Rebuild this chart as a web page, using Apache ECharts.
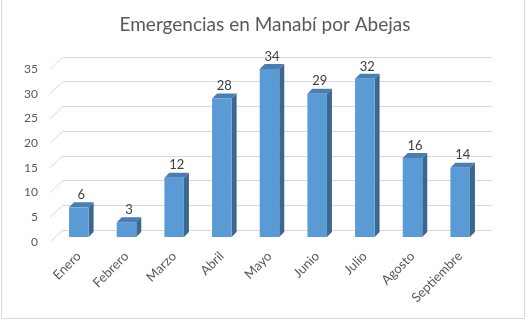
<!DOCTYPE html>
<html>
<head>
<meta charset="utf-8">
<script src="https://cdn.jsdelivr.net/npm/echarts@6/dist/echarts.min.js"></script>
<style>html,body{margin:0;padding:0;background:#fff}#c{width:530px;height:321px}</style>
</head>
<body>
<div id="c"></div>
<script>
const titleText = 'Emergencias en Manabí por Abejas';
const categories = ['Enero','Febrero','Marzo','Abril','Mayo','Junio','Julio','Agosto','Septiembre'];
const values = [6, 3, 12, 28, 34, 29, 32, 16, 14];
const yMin = 0, yMax = 35, yStep = 5;
const yTicks = [0, 5, 10, 15, 20, 25, 30, 35];

const FONT = 'Lato';
const DEPTH_X = 5, DEPTH_Y = 5;   // bar depth (px)
const WALL_X = 13, WALL_Y = 12;   // front-to-back wall offset (px)

const chart = echarts.init(document.getElementById('c'), null, {renderer: 'canvas'});

const gridSize = {width: 429, height: 173};
const yBase = {type: 'value', min: yMin, max: yMax, interval: yStep};

const option = {
  animation: false,
  backgroundColor: '#fff',
  title: {
    text: titleText, left: 'center', top: 10,
    textStyle: {fontFamily: FONT, fontSize: 19, fontWeight: 'normal', color: '#595959'}
  },
  graphic: [{
    type: 'rect', silent: true, z: -10,
    shape: {x: 1.5, y: -2, width: 523, height: 320.5},
    style: {fill: 'none', stroke: '#d9d9d9', lineWidth: 1}
  }],
  grid: [
    Object.assign({left: 63, top: 57}, gridSize),   // back wall
    Object.assign({left: 55, top: 64}, gridSize),   // bar plane
    Object.assign({left: 50, top: 69}, gridSize)    // front plane
  ],
  xAxis: [
    {type: 'category', data: categories, gridIndex: 0, show: false},
    {type: 'category', data: categories, gridIndex: 1,
     axisLine: {show: false}, axisTick: {show: false},
     axisLabel: {rotate: 45, margin: 17, interval: 0, fontFamily: FONT, fontSize: 13, color: '#595959'}},
    {type: 'category', data: categories, gridIndex: 2, show: false}
  ],
  yAxis: [
    Object.assign({gridIndex: 0, axisLine: {show: false}, axisTick: {show: false}, axisLabel: {show: false},
      splitLine: {show: true, lineStyle: {color: '#d9d9d9', width: 1}}}, yBase),
    Object.assign({gridIndex: 1, show: false, splitLine: {show: false}}, yBase),
    Object.assign({gridIndex: 2, axisLine: {show: false}, axisTick: {show: false},
      splitLine: {show: false},
      axisLabel: {margin: 12, fontFamily: FONT, fontSize: 12, color: '#595959'}}, yBase)
  ],
  series: [
    {
      type: 'custom', xAxisIndex: 2, yAxisIndex: 2, silent: true,
      data: yTicks.map(v => [0, v]),
      renderItem: function (params, api) {
        const cs = params.coordSys;
        const y = api.coord([0, api.value(1)])[1];
        return {
          type: 'line',
          shape: {x1: cs.x, y1: y, x2: cs.x + WALL_X, y2: y - WALL_Y},
          style: {stroke: '#d9d9d9', lineWidth: 1}
        };
      }
    },
    {
      type: 'custom', xAxisIndex: 1, yAxisIndex: 1, silent: true,
      data: values.map((v, i) => [i, v]),
      renderItem: function (params, api) {
        const i = api.value(0), v = api.value(1);
        const top = api.coord([i, v]);
        const base = api.coord([i, 0]);
        const w = api.size([1, 0])[0] * 0.41;
        const x0 = top[0] - w / 2, x1 = top[0] + w / 2;
        const yt = top[1], yb = base[1];
        return {
          type: 'group',
          children: [
            {type: 'polygon', shape: {points: [[x1, yt], [x1 + DEPTH_X, yt - DEPTH_Y], [x1 + DEPTH_X, yb - DEPTH_Y], [x1, yb]]},
             style: {fill: '#3c6890'}},
            {type: 'polygon', shape: {points: [[x0, yt], [x0 + DEPTH_X, yt - DEPTH_Y], [x1 + DEPTH_X, yt - DEPTH_Y], [x1, yt]]},
             style: {fill: '#4a7db2'}},
            {type: 'rect', shape: {x: x0, y: yt, width: w, height: yb - yt},
             style: {fill: '#5b9bd5'}},
            {type: 'text', x: top[0] + DEPTH_X / 2, y: yt - DEPTH_Y - 1,
             style: {text: String(v), align: 'center', verticalAlign: 'bottom',
                     fontFamily: FONT, fontSize: 13, fill: '#404040'}}
          ]
        };
      }
    }
  ]
};
chart.setOption(option);
</script>
</body>
</html>
